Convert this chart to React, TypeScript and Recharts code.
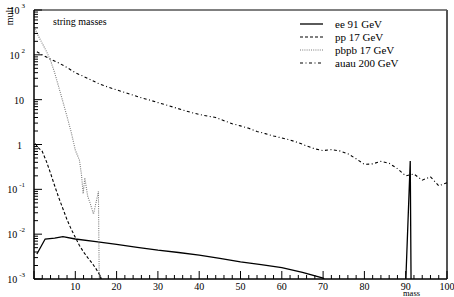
import React from "react";
import {
  LineChart,
  Line,
  XAxis,
  YAxis,
  ReferenceArea,
  ReferenceLine
} from "recharts";

// mass bins (GeV) and multiplicities; 0.0008 = below the axis floor
const eeMass = [0.7, 2.7, 5, 7, 10, 15, 20, 25, 30, 35, 40, 45, 50, 55, 60, 65, 70, 71, 90, 91.1, 91.3, 100];
const eeMult = [0.0036, 0.0078, 0.0082, 0.0088, 0.0078, 0.0068, 0.0059, 0.0051, 0.0044, 0.0039, 0.0034, 0.0029, 0.0024, 0.0021, 0.0018, 0.0014, 0.00105, 0.0008, 0.0008, 0.43, 0.0008, 0.0008];

const ppMass = [0.3, 1, 2, 3, 4, 5, 6, 7, 8, 9, 10, 11, 12, 13, 14, 15, 16, 16.3];
const ppMult = [1.05, 0.85, 0.7, 0.42, 0.23, 0.12, 0.065, 0.037, 0.021, 0.013, 0.0085, 0.0056, 0.004, 0.003, 0.0023, 0.0017, 0.0012, 0.001];

const pbpbMass = [0, 1, 2, 3, 4, 5, 6, 7, 8, 9, 10, 11, 11.5, 11.9, 12.3, 13, 13.6, 14.4, 14.9, 15.6, 15.8];
const pbpbMult = [420, 270, 180, 120, 75, 40, 19, 9, 4.2, 1.9, 0.75, 0.45, 0.21, 0.08, 0.18, 0.07, 0.049, 0.028, 0.045, 0.09, 0.0008];

const auauMass = [0.7, 2, 4, 6, 8, 10, 12, 14, 16, 18, 20, 22, 24, 26, 28, 30, 32, 34, 36, 38, 40, 42, 44, 46, 48, 50, 52, 54, 56, 58, 60, 62, 64, 66, 68, 70, 72, 74, 76, 78, 80, 82, 84, 86, 88, 90, 92, 94, 96, 98, 100];
const auauMult = [117, 100, 80, 66, 52, 40, 33, 27, 22, 19, 16.5, 14.5, 12.6, 11, 9.8, 8.6, 7.6, 6.7, 5.9, 5.2, 4.7, 4.3, 4.0, 3.4, 2.9, 2.6, 2.3, 1.95, 1.75, 1.55, 1.4, 1.26, 1.1, 0.93, 0.8, 0.73, 0.77, 0.72, 0.62, 0.48, 0.36, 0.37, 0.42, 0.38, 0.29, 0.2, 0.22, 0.16, 0.19, 0.12, 0.14];

const xTicks = [0, 2, 4, 6, 8, 10, 12, 14, 16, 18, 20, 22, 24, 26, 28, 30, 32, 34, 36, 38, 40, 42, 44, 46, 48, 50, 52, 54, 56, 58, 60, 62, 64, 66, 68, 70, 72, 74, 76, 78, 80, 82, 84, 86, 88, 90, 92, 94, 96, 98, 100];
const yDecades = [-3, -2, -1, 0, 1, 2, 3];
const decadeLabels = ["10|-3", "10|-2", "10|-1", "1", "10", "10|2", "10|3"];

const series = [
  { name: "ee 91 GeV", mass: eeMass, mult: eeMult, color: "#000", dash: undefined, width: 1.3 },
  { name: "pp 17 GeV", mass: ppMass, mult: ppMult, color: "#000", dash: "3 2", width: 1.1 },
  { name: "pbpb 17 GeV", mass: pbpbMass, mult: pbpbMult, color: "#7a7a7a", dash: "1 1.2", width: 1.1 },
  { name: "auau 200 GeV", mass: auauMass, mult: auauMult, color: "#000", dash: "3 2.5 1 2.5", width: 1.1 }
];

const yTicks: number[] = [];
yDecades.forEach((e) => {
  const top = e === 3 ? 1 : 9;
  for (let k = 1; k <= top; k++) yTicks.push(Number((k * Math.pow(10, e)).toPrecision(3)));
});

const font = "'Liberation Serif', 'DejaVu Serif', serif";

function XTick(props: any) {
  const { x, y, payload } = props;
  const v = payload.value;
  const major = v % 10 === 0;
  return (
    <g>
      <line x1={x} x2={x} y1={y} y2={y - (major ? 8 : 4)} stroke="#000" />
      {major && v !== 0 ? (
        <text x={x} y={y + 11} textAnchor="middle" fontSize={10} fontFamily={font} fill="#000">
          {v}
        </text>
      ) : null}
    </g>
  );
}

function YTick(props: any) {
  const { x, y, payload } = props;
  const lg = Math.log10(payload.value);
  const major = Math.abs(lg - Math.round(lg)) < 1e-6;
  let label: React.ReactNode = null;
  if (major) {
    const idx = yDecades.indexOf(Math.round(lg));
    const [base, sup] = decadeLabels[idx].split("|");
    label = sup ? (
      <text x={x - 9} y={y + 4} textAnchor="end" fontSize={10} fontFamily={font} fill="#000">
        {base}
        <tspan dx={2} dy={-6} fontSize={7}>{sup}</tspan>
      </text>
    ) : (
      <text x={base === "1" ? x - 12 : x - 10} y={y + 4} textAnchor="end" fontSize={10} fontFamily={font} fill="#000">
        {base}
      </text>
    );
  }
  return (
    <g>
      <line x1={x} x2={x + (major ? 8 : 4)} y1={y} y2={y} stroke="#000" />
      {label}
    </g>
  );
}

function LegendBox() {
  return (
    <g transform="translate(296, 16)">
      {series.map((s, i) => (
        <g key={s.name}>
          <line x1={4} x2={27} y1={8 + i * 13} y2={8 + i * 13} stroke={s.color} strokeWidth={s.width} strokeDasharray={s.dash} />
          <text x={39} y={12 + i * 13} fontSize={11} fontFamily={font} fill="#000">
            {s.name}
          </text>
        </g>
      ))}
    </g>
  );
}

export default function App() {
  return (
    <div style={{ position: "absolute", left: 0, top: 0, width: 454, height: 297, background: "#fff", fontFamily: font }}>
      <LineChart width={454} height={297} margin={{ top: 10, right: 7, left: 0, bottom: 0 }}>
        <XAxis
          type="number"
          dataKey="m"
          domain={[0, 100]}
          ticks={xTicks}
          interval={0}
          tickSize={0}
          tickMargin={0}
          tickLine={false}
          tick={<XTick />}
          height={18}
          stroke="#000"
          allowDuplicatedCategory={false}
        />
        <YAxis
          type="number"
          scale="log"
          domain={[0.001, 1000]}
          allowDataOverflow
          ticks={yTicks}
          interval={0}
          tickSize={0}
          tickMargin={0}
          tickLine={false}
          tick={<YTick />}
          width={34}
          stroke="#000"
        />
        <ReferenceArea x1={0} x2={100} y1={0.001} y2={1000} fill="none" stroke="#000" strokeWidth={1} />
        <ReferenceLine x={100} stroke="#555" strokeWidth={2} />
        {series.map((s) => (
          <Line
            key={s.name}
            data={s.mass.map((m, i) => ({ m, v: s.mult[i] }))}
            dataKey="v"
            name={s.name}
            type="linear"
            stroke={s.color}
            strokeWidth={s.width}
            strokeDasharray={s.dash}
            dot={false}
            activeDot={false}
            isAnimationActive={false}
          />
        ))}
      </LineChart>
      <svg style={{ position: "absolute", left: 0, top: 0 }} width={454} height={297} pointerEvents="none">
        <LegendBox />
        <text x={53} y={25} fontSize={10} fontFamily={font}>string masses</text>
        <text x={13} y={7} transform="rotate(-90 13 7)" textAnchor="end" fontSize={10} fontFamily={font}>mult</text>
        <text x={420} y={296} textAnchor="end" fontSize={8.5} fontFamily={font}>mass</text>
      </svg>
    </div>
  );
}
